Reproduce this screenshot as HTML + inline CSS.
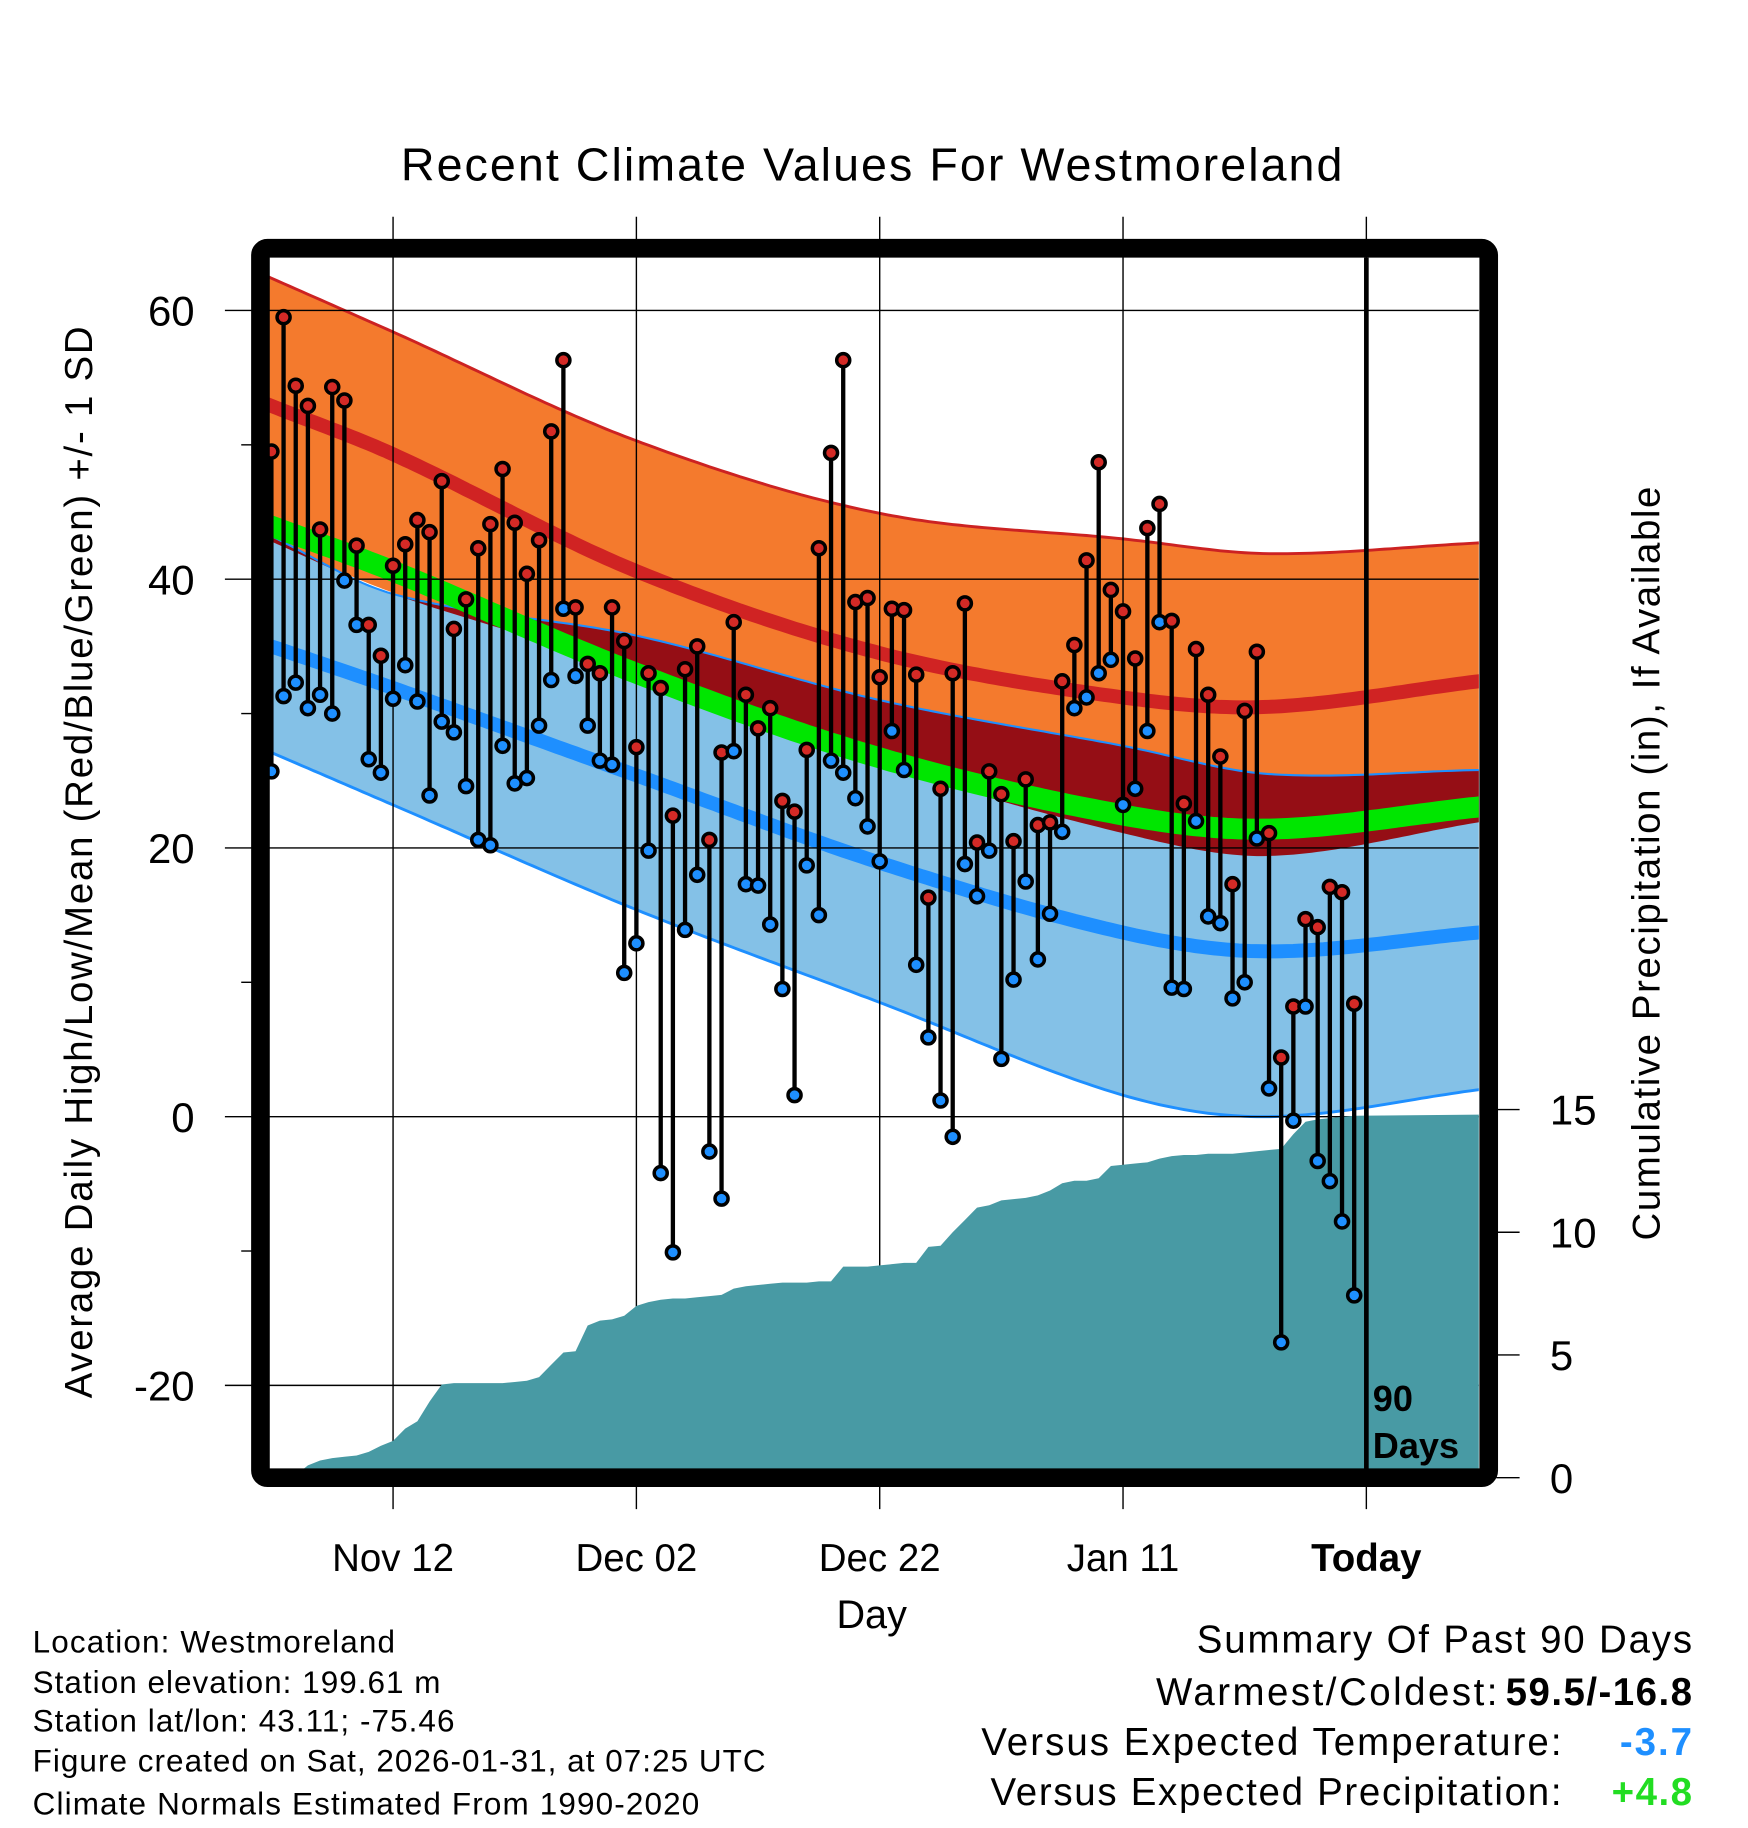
<!DOCTYPE html>
<html><head><meta charset="utf-8"><title>Recent Climate Values For Westmoreland</title>
<style>html,body{margin:0;padding:0;background:#fff}svg{display:block}text{font-family:"Liberation Sans",Arial,sans-serif}</style>
</head><body>
<svg id="chart" xmlns="http://www.w3.org/2000/svg" width="1748" height="1828" viewBox="0 0 1500 1568.6">
<defs><clipPath id="plotclip"><rect x="231" y="221" width="1038" height="1040"/></clipPath></defs>
<g id="bands" clip-path="url(#plotclip)"></g>
<g id="grid"></g>
<g id="precip" clip-path="url(#plotclip)"></g>
<g id="stems" clip-path="url(#plotclip)"></g>
<line x1="1172.5" y1="221" x2="1172.5" y2="1262" stroke="#000" stroke-width="4"/>
<text x="1178" y="1211" font-size="31" font-weight="bold">90</text>
<text x="1178" y="1251" font-size="31" font-weight="bold">Days</text>
<rect x="223.5" y="213" width="1054" height="1055" rx="6" fill="none" stroke="#000" stroke-width="16"/>
<g id="axes"></g>
<text x="748" y="155" font-size="40" text-anchor="middle" textLength="808">Recent Climate Values For Westmoreland</text>
<text x="748" y="1397" font-size="34" text-anchor="middle">Day</text>
<text transform="translate(79,740) rotate(-90)" font-size="33" text-anchor="middle" textLength="920">Average Daily High/Low/Mean (Red/Blue/Green) +/- 1 SD</text>
<text transform="translate(1424,741) rotate(-90)" font-size="33" text-anchor="middle" textLength="647">Cumulative Precipitation (in), If Available</text>
<g font-size="27">
<text x="28" y="1418" textLength="311">Location: Westmoreland</text>
<text x="28" y="1453" textLength="350">Station elevation: 199.61 m</text>
<text x="28" y="1486" textLength="362">Station lat/lon: 43.11; -75.46</text>
<text x="28" y="1520" textLength="629">Figure created on Sat, 2026-01-31, at 07:25 UTC</text>
<text x="28" y="1557" textLength="572">Climate Normals Estimated From 1990-2020</text>
</g>
<g font-size="33">
<text x="1452" y="1418" text-anchor="end" textLength="425">Summary Of Past 90 Days</text>
<text x="1285" y="1463" text-anchor="end" textLength="293">Warmest/Coldest:</text>
<text x="1452" y="1463" text-anchor="end" font-weight="bold" textLength="160">59.5/-16.8</text>
<text x="1340" y="1506" text-anchor="end" textLength="498">Versus Expected Temperature:</text>
<text x="1452" y="1506" text-anchor="end" font-weight="bold" fill="#1e8fff" textLength="62">-3.7</text>
<text x="1340" y="1549" text-anchor="end" textLength="490">Versus Expected Precipitation:</text>
<text x="1452" y="1549" text-anchor="end" font-weight="bold" fill="#22dd22" textLength="69">+4.8</text>
</g>
</svg>
<script>
const NS = "http://www.w3.org/2000/svg";
// ---- data ----
const normDays = [-90, -80, -60, -40, -20, -8, 9.2];
const highUpper = [62.4, 58.4, 50.3, 44.9, 43.0, 41.9, 42.7];
const highNormal = [52.9, 49.3, 40.6, 34.5, 31.2, 30.5, 32.4];
const highLower = [42.8, 39.0, 33.2, 26.3, 21.1, 19.4, 21.9];
const lowUpper = [43.2, 38.9, 35.8, 31.0, 27.6, 25.5, 25.8];
const lowNormal = [35.0, 31.9, 25.4, 18.9, 13.7, 12.3, 13.7];
const lowLower = [27.1, 23.2, 15.4, 8.5, 1.6, 0.0, 2.0];
const dayHighs = [49.5,59.5,54.4,52.9,43.7,54.3,53.3,42.5,36.6,34.3,41.0,42.6,44.4,43.5,47.3,36.3,38.5,42.3,44.1,48.2,44.2,40.4,42.9,51.0,56.3,37.9,33.7,33.0,37.9,35.4,27.5,33.0,31.9,22.4,33.3,35.0,20.6,27.1,36.8,31.4,28.9,30.4,23.5,22.7,27.3,42.3,49.4,56.3,38.3,38.6,32.7,37.8,37.7,32.9,16.3,24.4,33.0,38.2,20.4,25.7,24.0,20.5,25.1,21.7,21.9,32.4,35.1,41.4,48.7,39.2,37.6,34.1,43.8,45.6,36.9,23.3,34.8,31.4,26.8,17.3,30.2,34.6,21.1,4.4,8.2,14.7,14.1,17.1,16.7,8.4];
const dayLows = [25.7,31.3,32.3,30.4,31.4,30.0,39.9,36.6,26.6,25.6,31.1,33.6,30.9,23.9,29.4,28.6,24.6,20.6,20.2,27.6,24.8,25.2,29.1,32.5,37.8,32.8,29.1,26.5,26.2,10.7,12.9,19.8,-4.2,-10.1,13.9,18.0,-2.6,-6.1,27.2,17.3,17.2,14.3,9.5,1.6,18.7,15.0,26.5,25.6,23.7,21.6,19.0,28.7,25.8,11.3,5.9,1.2,-1.5,18.8,16.4,19.8,4.3,10.2,17.5,11.7,15.1,21.2,30.4,31.2,33.0,34.0,23.2,24.4,28.7,36.8,9.6,9.5,22.0,14.9,14.4,8.8,10.0,20.7,2.1,-16.8,-0.3,8.2,-3.3,-4.8,-7.8,-13.3];
const precipCum = [0,0,0.1,0.5,0.7,0.8,0.85,0.9,1.05,1.3,1.5,2.0,2.3,3.1,3.8,3.85,3.85,3.85,3.85,3.85,3.9,3.95,4.1,4.6,5.1,5.15,6.2,6.4,6.45,6.6,7.0,7.15,7.25,7.3,7.3,7.35,7.4,7.45,7.7,7.8,7.85,7.9,7.95,7.95,7.95,8.0,8.0,8.6,8.6,8.6,8.65,8.7,8.75,8.75,9.4,9.45,10.0,10.5,11.0,11.1,11.3,11.35,11.4,11.5,11.7,12.0,12.1,12.1,12.2,12.7,12.75,12.8,12.85,13.0,13.1,13.15,13.15,13.2,13.2,13.2,13.25,13.3,13.35,13.4,14.0,14.5,14.6,14.65,14.7,14.75];
const yTicks = [60, 40, 20, 0, -20];
const yMinorTicks = [50, 30, 10, -10];
const precipTicks = [15, 10, 5, 0];
const xTickDays = [-80, -60, -40, -20, 0];
const xTickLabels = ["Nov 12", "Dec 02", "Dec 22", "Jan 11", "Today"];
const firstDay = -90;

// ---- scales ----
function xScale(d){ return 1172.5 + d * 10.44; }
function yScale(t){ return 958.2 - t * 11.53; }
function pScale(p){ return 1268 - p * 21.06; }

function interp(vals, d){
  const n = normDays.length;
  let i = 0;
  while (i < n - 2 && d > normDays[i+1]) i++;
  const x0 = normDays[i], x1 = normDays[i+1];
  const slope = k => {
    if (k === 0) return (vals[1]-vals[0])/(normDays[1]-normDays[0]);
    if (k === n-1) return (vals[n-1]-vals[n-2])/(normDays[n-1]-normDays[n-2]);
    return (vals[k+1]-vals[k-1])/(normDays[k+1]-normDays[k-1]);
  };
  const h = x1 - x0, t = (d - x0) / h;
  const h00 = 2*t*t*t - 3*t*t + 1, h10 = t*t*t - 2*t*t + t, h01 = -2*t*t*t + 3*t*t, h11 = t*t*t - t*t;
  return h00*vals[i] + h10*h*slope(i) + h01*vals[i+1] + h11*h*slope(i+1);
}
const sampleDays = [];
for (let d = -91; d <= 10; d += 0.5) sampleDays.push(d);
function linePts(vals){ return sampleDays.map(d => xScale(d).toFixed(1) + "," + yScale(interp(vals, d)).toFixed(1)); }
function bandPath(top, bot){
  const a = linePts(top), b = linePts(bot).reverse();
  return "M" + a.join("L") + "L" + b.join("L") + "Z";
}
function mk(tag, attrs, parent){
  const el = document.createElementNS(NS, tag);
  for (const k in attrs) el.setAttribute(k, attrs[k]);
  parent.appendChild(el);
  return el;
}
const bands = document.getElementById("bands");
let el;
el = mk("path", {d: bandPath(highUpper, highLower), fill: "#f47a2d"}, bands);


el = mk("path", {d: bandPath(lowUpper, lowLower), fill: "#84c1e7"}, bands);


const overlapBot = normDays.map((d, i) => Math.min(highLower[i], lowUpper[i]));
el = mk("path", {d: bandPath(lowUpper, overlapBot), fill: "#950e15"}, bands);


const meanNormal = normDays.map((d, i) => (highNormal[i] + lowNormal[i]) / 2);
function curve(vals, color, w, name){
  const p = mk("polyline", {points: linePts(vals).join(" "), fill: "none", stroke: color, "stroke-width": w}, bands);
  
  
}
curve(highUpper, "#cc2222", 2.5, "high-upper-line");
curve(lowUpper, "#1e8fff", 1.8, "low-upper-line");
curve(lowLower, "#1e8fff", 2.5, "low-lower-line");
curve(meanNormal, "#00e600", 18, "mean-normal-line");
curve(highNormal, "#d02323", 12, "high-normal-line");
curve(lowNormal, "#1e8fff", 12, "low-normal-line");

const grid = document.getElementById("grid");
yTicks.forEach(t => {
  el = mk("line", {x1: 193, x2: 1269, y1: yScale(t), y2: yScale(t), stroke: "#000", "stroke-width": 1.2}, grid);
  
  
});
xTickDays.forEach(d => {
  el = mk("line", {x1: xScale(d), x2: xScale(d), y1: 186, y2: 1295, stroke: "#000", "stroke-width": 1.2}, grid);
  
  
});

const precip = document.getElementById("precip");
let pp = "M" + xScale(firstDay) + "," + pScale(0);
precipCum.forEach((v, i) => { pp += "L" + xScale(firstDay + i).toFixed(1) + "," + pScale(v).toFixed(1); });
pp += "L" + xScale(11) + "," + pScale(precipCum[precipCum.length-1] + 0.05) + "L" + xScale(11) + "," + pScale(-1) + "L" + xScale(firstDay) + "," + pScale(-1) + "Z";
el = mk("path", {d: pp, fill: "#489aa4"}, precip);



const stems = document.getElementById("stems");
dayHighs.forEach((h, i) => {
  const x = xScale(firstDay + i);
  el = mk("line", {x1: x, x2: x, y1: yScale(h), y2: yScale(dayLows[i]), stroke: "#000", "stroke-width": 3.7}, stems);
  
  
});
dayHighs.forEach((h, i) => {
  const x = xScale(firstDay + i);
  el = mk("circle", {cx: x, cy: yScale(dayLows[i]), r: 5.6, fill: "#1e8fff", stroke: "#000", "stroke-width": 3}, stems);
  
  
  el = mk("circle", {cx: x, cy: yScale(h), r: 5.6, fill: "#d42a26", stroke: "#000", "stroke-width": 3}, stems);
  
  
});

const axes = document.getElementById("axes");
yTicks.forEach(t => {
  el = mk("text", {x: 167, y: yScale(t) + 13, "font-size": 36, "text-anchor": "end"}, axes);
  el.textContent = String(t);
  
  
});
yMinorTicks.forEach(t => {
  el = mk("line", {x1: 207, x2: 216, y1: yScale(t), y2: yScale(t), stroke: "#000", "stroke-width": 1.2}, axes);
  
  
});
precipTicks.forEach(p => {
  el = mk("line", {x1: 1284, x2: 1304, y1: pScale(p), y2: pScale(p), stroke: "#000", "stroke-width": 1.2}, axes);
  
  
  el = mk("text", {x: 1330, y: pScale(p) + 13, "font-size": 36}, axes);
  el.textContent = String(p);
  
  
});
xTickDays.forEach((d, i) => {
  el = mk("text", {x: xScale(d), y: 1348, "font-size": 33, "text-anchor": "middle"}, axes);
  if (xTickLabels[i] === "Today") el.setAttribute("font-weight", "bold");
  el.textContent = xTickLabels[i];
  
  
});
</script>
</body></html>
